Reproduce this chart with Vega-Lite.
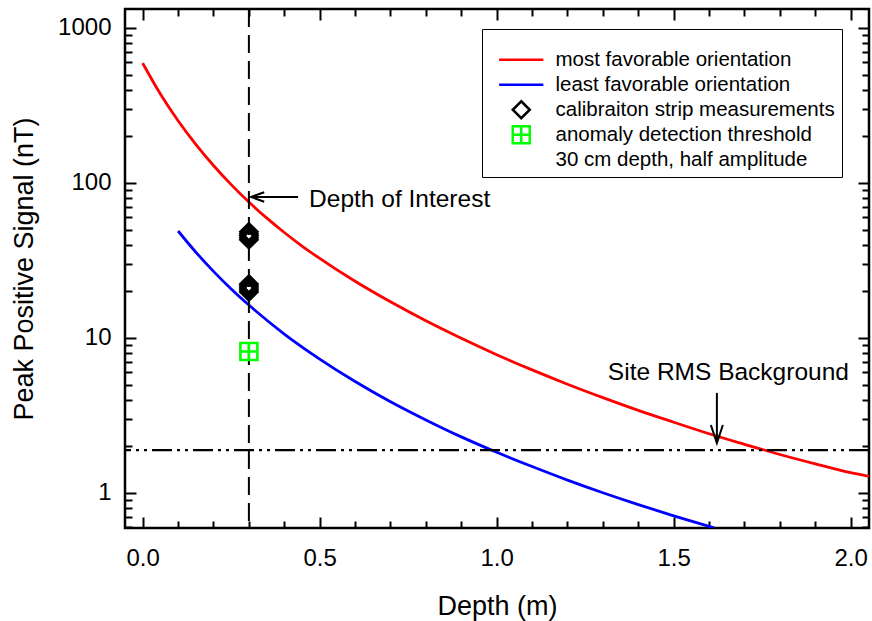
{
  "$schema": "https://vega.github.io/schema/vega-lite/v6.json",
  "width": 744,
  "height": 519,
  "autosize": {"type": "none"},
  "padding": {"left": 125, "top": 9, "right": 3, "bottom": 93},
  "background": "white",
  "config": {
    "view": {"stroke": "black", "strokeWidth": 2.5},
    "font": "Liberation Sans",
    "axis": {
      "labelFont": "Liberation Sans",
      "titleFont": "Liberation Sans",
      "labelColor": "black",
      "titleColor": "black",
      "tickColor": "black",
      "titleFontWeight": "normal",
      "grid": false,
      "domain": false,
      "tickWidth": 2,
      "labelFontSize": 24,
      "titleFontSize": 27,
      "labelOverlap": false,
      "labelFlush": false
    }
  },
  "datasets": {
    "curves": [
      {"d": 0.0, "v": 593, "series": "most favorable orientation"},
      {"d": 0.05, "v": 375, "series": "most favorable orientation"},
      {"d": 0.1, "v": 252, "series": "most favorable orientation"},
      {"d": 0.15, "v": 177.5, "series": "most favorable orientation"},
      {"d": 0.2, "v": 129.7, "series": "most favorable orientation"},
      {"d": 0.25, "v": 97.6, "series": "most favorable orientation"},
      {"d": 0.3, "v": 75.3, "series": "most favorable orientation"},
      {"d": 0.35, "v": 59.5, "series": "most favorable orientation"},
      {"d": 0.4, "v": 47.9, "series": "most favorable orientation"},
      {"d": 0.45, "v": 39.2, "series": "most favorable orientation"},
      {"d": 0.5, "v": 32.6, "series": "most favorable orientation"},
      {"d": 0.6, "v": 23.2, "series": "most favorable orientation"},
      {"d": 0.7, "v": 17.1, "series": "most favorable orientation"},
      {"d": 0.8, "v": 12.9, "series": "most favorable orientation"},
      {"d": 0.9, "v": 9.95, "series": "most favorable orientation"},
      {"d": 1.0, "v": 7.8, "series": "most favorable orientation"},
      {"d": 1.1, "v": 6.22, "series": "most favorable orientation"},
      {"d": 1.2, "v": 5.03, "series": "most favorable orientation"},
      {"d": 1.3, "v": 4.12, "series": "most favorable orientation"},
      {"d": 1.4, "v": 3.41, "series": "most favorable orientation"},
      {"d": 1.5, "v": 2.86, "series": "most favorable orientation"},
      {"d": 1.6, "v": 2.41, "series": "most favorable orientation"},
      {"d": 1.7, "v": 2.06, "series": "most favorable orientation"},
      {"d": 1.8, "v": 1.77, "series": "most favorable orientation"},
      {"d": 1.9, "v": 1.54, "series": "most favorable orientation"},
      {"d": 2.0, "v": 1.35, "series": "most favorable orientation"},
      {"d": 2.052, "v": 1.28, "series": "most favorable orientation"},
      {"d": 0.1, "v": 49.0, "series": "least favorable orientation"},
      {"d": 0.15, "v": 35.8, "series": "least favorable orientation"},
      {"d": 0.2, "v": 26.9, "series": "least favorable orientation"},
      {"d": 0.25, "v": 20.7, "series": "least favorable orientation"},
      {"d": 0.3, "v": 16.3, "series": "least favorable orientation"},
      {"d": 0.4, "v": 10.6, "series": "least favorable orientation"},
      {"d": 0.5, "v": 7.31, "series": "least favorable orientation"},
      {"d": 0.6, "v": 5.24, "series": "least favorable orientation"},
      {"d": 0.7, "v": 3.88, "series": "least favorable orientation"},
      {"d": 0.8, "v": 2.96, "series": "least favorable orientation"},
      {"d": 0.9, "v": 2.3, "series": "least favorable orientation"},
      {"d": 1.0, "v": 1.83, "series": "least favorable orientation"},
      {"d": 1.1, "v": 1.48, "series": "least favorable orientation"},
      {"d": 1.2, "v": 1.21, "series": "least favorable orientation"},
      {"d": 1.3, "v": 1.003, "series": "least favorable orientation"},
      {"d": 1.4, "v": 0.841, "series": "least favorable orientation"},
      {"d": 1.5, "v": 0.712, "series": "least favorable orientation"},
      {"d": 1.6, "v": 0.608, "series": "least favorable orientation"},
      {"d": 1.614, "v": 0.595, "series": "least favorable orientation"}
    ],
    "markers": [
      {"d": 0.3, "v": 48.4, "series": "calibraiton strip measurements"},
      {"d": 0.3, "v": 46.9, "series": "calibraiton strip measurements"},
      {"d": 0.3, "v": 45.6, "series": "calibraiton strip measurements"},
      {"d": 0.3, "v": 44.3, "series": "calibraiton strip measurements"},
      {"d": 0.3, "v": 43.0, "series": "calibraiton strip measurements"},
      {"d": 0.3, "v": 22.3, "series": "calibraiton strip measurements"},
      {"d": 0.3, "v": 21.6, "series": "calibraiton strip measurements"},
      {"d": 0.3, "v": 21.0, "series": "calibraiton strip measurements"},
      {"d": 0.3, "v": 20.4, "series": "calibraiton strip measurements"},
      {"d": 0.3, "v": 19.8, "series": "calibraiton strip measurements"},
      {"d": 0.3, "v": 8.18, "series": "anomaly detection threshold"}
    ]
  },
  "layer": [
    {
      "data": {"name": "curves"},
      "transform": [{"filter": "datum.series === 'most favorable orientation'"}],
      "mark": {"type": "line", "strokeWidth": 2.8, "interpolate": "monotone", "clip": true, "color": "#ff0000"},
      "encoding": {
        "x": {
          "field": "d", "type": "quantitative",
          "scale": {"domain": [-0.05, 2.0517], "nice": false, "zero": false},
          "axis": {
            "orient": "bottom",
            "values": [0, 0.1, 0.2, 0.3, 0.4, 0.5, 0.6, 0.7, 0.8, 0.9, 1.0, 1.1, 1.2, 1.3, 1.4, 1.5, 1.6, 1.7, 1.8, 1.9, 2.0],
            "tickSize": {"condition": {"test": "abs(datum.value*2-round(datum.value*2))<0.001", "value": -11}, "value": -7},
            "labelExpr": "abs(datum.value*2-round(datum.value*2))<0.001 ? format(datum.value,'.1f') : ''",
            "labelPadding": 29,
            "title": "Depth (m)",
            "titlePadding": 19
          }
        },
        "y": {
          "field": "v", "type": "quantitative",
          "scale": {"type": "log", "domain": [0.594, 1326], "nice": false},
          "axis": {
            "orient": "left",
            "values": [0.6, 0.7, 0.8, 0.9, 1, 2, 3, 4, 5, 6, 7, 8, 9, 10, 20, 30, 40, 50, 60, 70, 80, 90, 100, 200, 300, 400, 500, 600, 700, 800, 900, 1000],
            "tickSize": {"condition": {"test": "abs(log(datum.value)/LN10-round(log(datum.value)/LN10))<0.001", "value": -11}, "value": -7},
            "labelExpr": "abs(log(datum.value)/LN10-round(log(datum.value)/LN10))<0.001 ? format(datum.value,'d') : ''",
            "labelPadding": 25,
            "title": "Peak Positive Signal (nT)",
            "titlePadding": 19
          }
        }
      }
    },
    {
      "data": {"name": "curves"},
      "transform": [{"filter": "datum.series === 'least favorable orientation'"}],
      "mark": {"type": "line", "strokeWidth": 2.8, "interpolate": "monotone", "clip": true, "color": "#0000ff"},
      "encoding": {
        "x": {"field": "d", "type": "quantitative", "scale": {"domain": [-0.05, 2.0517], "nice": false, "zero": false}, "axis": null},
        "y": {"field": "v", "type": "quantitative", "scale": {"type": "log", "domain": [0.594, 1326], "nice": false}, "axis": null}
      }
    },
    {
      "data": {"values": [{"v": 1.89}]},
      "mark": {"type": "rule", "color": "black", "strokeWidth": 2.2, "strokeDash": [20, 5, 3, 5, 3, 5]},
      "encoding": {
        "y": {"field": "v", "type": "quantitative", "scale": {"type": "log", "domain": [0.594, 1326], "nice": false}, "axis": null}
      }
    },
    {
      "data": {"values": [{"d": 0.3}]},
      "mark": {"type": "rule", "color": "black", "strokeWidth": 2, "strokeDash": [18, 8]},
      "encoding": {
        "x": {"field": "d", "type": "quantitative", "scale": {"domain": [-0.05, 2.0517], "nice": false, "zero": false}, "axis": null}
      }
    },
    {
      "data": {"name": "markers"},
      "mark": {"type": "point", "filled": false, "strokeWidth": 2.6, "size": 289, "opacity": 1},
      "encoding": {
        "x": {
          "field": "d", "type": "quantitative",
          "scale": {"domain": [-0.05, 2.0517], "nice": false, "zero": false},
          "axis": {
            "orient": "top",
            "values": [0, 0.1, 0.2, 0.3, 0.4, 0.5, 0.6, 0.7, 0.8, 0.9, 1.0, 1.1, 1.2, 1.3, 1.4, 1.5, 1.6, 1.7, 1.8, 1.9, 2.0],
            "tickSize": {"condition": {"test": "abs(datum.value*2-round(datum.value*2))<0.001", "value": -11}, "value": -7},
            "labels": false,
            "title": null
          }
        },
        "y": {
          "field": "v", "type": "quantitative",
          "scale": {"type": "log", "domain": [0.594, 1326], "nice": false},
          "axis": {
            "orient": "right",
            "values": [0.6, 0.7, 0.8, 0.9, 1, 2, 3, 4, 5, 6, 7, 8, 9, 10, 20, 30, 40, 50, 60, 70, 80, 90, 100, 200, 300, 400, 500, 600, 700, 800, 900, 1000],
            "tickSize": {"condition": {"test": "abs(log(datum.value)/LN10-round(log(datum.value)/LN10))<0.001", "value": -11}, "value": -7},
            "labels": false,
            "title": null
          }
        },
        "color": {
          "field": "series", "type": "nominal",
          "scale": {
            "domain": ["most favorable orientation", "least favorable orientation", "calibraiton strip measurements", "anomaly detection threshold", "30 cm depth, half amplitude"],
            "range": ["#ff0000", "#0000ff", "#000000", "#00ff00", "#ffffff"]
          },
          "legend": {
            "title": " ", "titleFontSize": 14, "titlePadding": 0, "orient": "none", "legendX": 357, "legendY": 20,
            "padding": 6.5, "strokeColor": "black", "gridAlign": "all", "labelLimit": 500,
            "labelFont": "Liberation Sans", "labelFontSize": 20.5, "labelColor": "black",
            "symbolSize": 289, "symbolStrokeWidth": 2.5, "symbolOffset": 22.5, "labelOffset": 24, "rowPadding": -3
          }
        },
        "shape": {
          "field": "series", "type": "nominal",
          "scale": {
            "domain": ["most favorable orientation", "least favorable orientation", "calibraiton strip measurements", "anomaly detection threshold", "30 cm depth, half amplitude"],
            "range": ["M-2.6,0L2.6,0", "M-2.6,0L2.6,0", "M0,-1L1,0L0,1L-1,0Z", "M-1,-1L1,-1L1,1L-1,1ZM0,-1L0,1M-1,0L1,0", "M0,0L0,0"]
          },
          "legend": {
            "title": " ", "titleFontSize": 14, "titlePadding": 0, "orient": "none", "legendX": 357, "legendY": 20,
            "padding": 6.5, "strokeColor": "black", "gridAlign": "all", "labelLimit": 500,
            "labelFont": "Liberation Sans", "labelFontSize": 20.5, "labelColor": "black",
            "symbolSize": 289, "symbolStrokeWidth": 2.5, "symbolOffset": 22.5, "labelOffset": 24, "rowPadding": -3
          }
        }
      }
    },
    {
      "data": {"values": [{"d": 0.306, "d2": 0.439, "v": 81.2, "v2": 81.2}, {"d": 1.622, "d2": 1.622, "v": 4.42, "v2": 2.1}]},
      "mark": {"type": "rule", "color": "black", "strokeWidth": 2},
      "encoding": {
        "x": {"field": "d", "type": "quantitative", "scale": {"domain": [-0.05, 2.0517], "nice": false, "zero": false}, "axis": null},
        "x2": {"field": "d2"},
        "y": {"field": "v", "type": "quantitative", "scale": {"type": "log", "domain": [0.594, 1326], "nice": false}, "axis": null},
        "y2": {"field": "v2"}
      }
    },
    {
      "data": {"values": [{"d": 0.306, "v": 81.2}]},
      "mark": {"type": "point", "shape": "M2.2,-0.8L0,0L2.2,0.8", "filled": false, "size": 144, "strokeWidth": 2, "color": "black", "opacity": 1},
      "encoding": {
        "x": {"field": "d", "type": "quantitative", "scale": {"domain": [-0.05, 2.0517], "nice": false, "zero": false}, "axis": null},
        "y": {"field": "v", "type": "quantitative", "scale": {"type": "log", "domain": [0.594, 1326], "nice": false}, "axis": null}
      }
    },
    {
      "data": {"values": [{"d": 1.622, "v": 2.1}]},
      "mark": {"type": "point", "shape": "M-1,-3L0,0L1,-3", "filled": false, "size": 144, "strokeWidth": 2, "color": "black", "opacity": 1},
      "encoding": {
        "x": {"field": "d", "type": "quantitative", "scale": {"domain": [-0.05, 2.0517], "nice": false, "zero": false}, "axis": null},
        "y": {"field": "v", "type": "quantitative", "scale": {"type": "log", "domain": [0.594, 1326], "nice": false}, "axis": null}
      }
    },
    {
      "data": {"values": [{"d": 0.47, "v": 69.7, "t": "Depth of Interest"}, {"d": 1.314, "v": 5.36, "t": "Site RMS Background"}]},
      "mark": {"type": "text", "align": "left", "baseline": "alphabetic", "fontSize": 24.5, "font": "Liberation Sans", "color": "black"},
      "encoding": {
        "x": {"field": "d", "type": "quantitative", "scale": {"domain": [-0.05, 2.0517], "nice": false, "zero": false}, "axis": null},
        "y": {"field": "v", "type": "quantitative", "scale": {"type": "log", "domain": [0.594, 1326], "nice": false}, "axis": null},
        "text": {"field": "t"}
      }
    }
  ],
  "resolve": {"axis": {"x": "independent", "y": "independent"}}
}
